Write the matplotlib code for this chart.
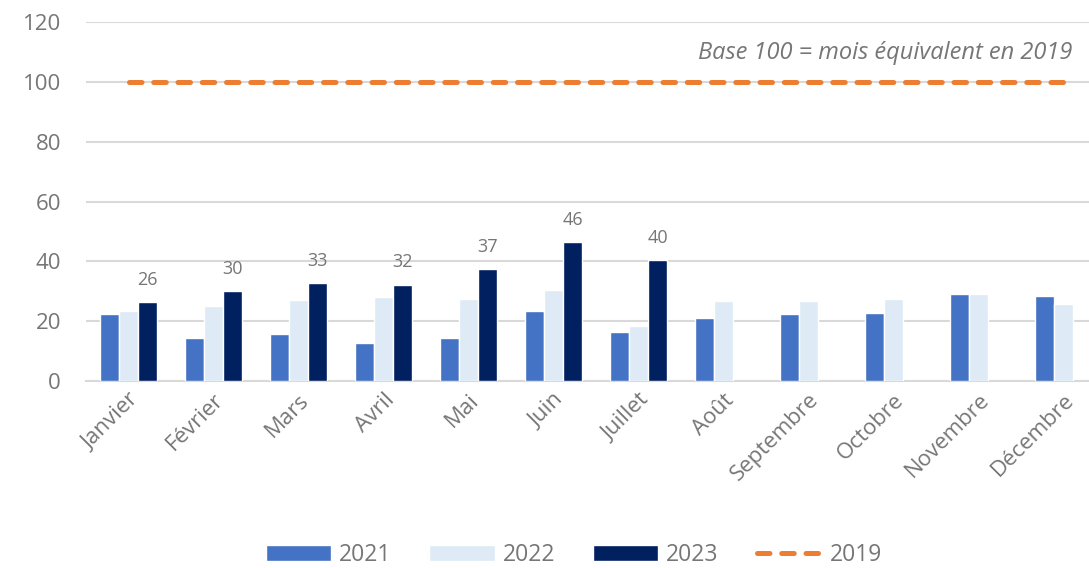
import numpy as np
import matplotlib.pyplot as plt

plt.rcParams['font.family'] = ['Open Sans', 'DejaVu Sans']

mois = ['Janvier', 'Février', 'Mars', 'Avril', 'Mai', 'Juin', 'Juillet',
        'Août', 'Septembre', 'Octobre', 'Novembre', 'Décembre']
v2021 = [22.3, 14.5, 15.8, 12.8, 14.5, 23.3, 16.5, 21.1, 22.5, 22.7, 29.0, 28.3]
v2022 = [23.4, 25.1, 27.1, 28.1, 27.6, 30.4, 18.5, 26.9, 26.9, 27.4, 29.0, 25.8]
v2023 = [26.3, 30.0, 32.8, 32.3, 37.4, 46.4, 40.4]
v2019 = [100] * 12

grey = '#767676'
fig = plt.figure(figsize=(10.89, 5.68), dpi=100)
# plot area runs a bit past the right edge, as in the source
ax = fig.add_axes([0.079, 0.329, 0.9366, 0.632])

x = np.arange(len(mois))
w = 0.224
h21 = ax.bar(x - w, v2021, w, color='#4472C4', edgecolor='white', linewidth=1, label='2021', zorder=3)
h22 = ax.bar(x, v2022, w, color='#DEEAF6', edgecolor='white', linewidth=1, label='2022', zorder=3)
h23 = ax.bar(x[:len(v2023)] + w, v2023, w, color='#002060', edgecolor='white', linewidth=1,
             label='2023', zorder=3)
h19, = ax.plot(x, v2019, color='#ED7D31', lw=3.6, ls=(0, (2.5, 2.35)), dash_capstyle='round',
               label='2019', zorder=4)

for xi, v in zip(x[:len(v2023)] + w, v2023):
    ax.text(xi, v + 4.5, f'{v:.0f}', ha='center', va='bottom', fontsize=13, color=grey)

ax.text(11.11, 109.7, 'Base 100 = mois équivalent en 2019', ha='right', va='center',
        fontsize=17, style='italic', color=grey)

ax.set_xlim(-0.5, 11.5)
ax.set_ylim(0, 120)
ax.set_yticks(range(0, 121, 20))
ax.yaxis.grid(True, color='#d9d9d9', lw=1.5, zorder=0)
ax.set_axisbelow(True)
for s in ['top', 'right', 'left']:
    ax.spines[s].set_visible(False)
ax.spines['bottom'].set_color('#d9d9d9')
ax.spines['bottom'].set_linewidth(1.5)
ax.tick_params(axis='both', length=0, labelsize=16, labelcolor=grey)
ax.tick_params(axis='y', pad=18)
ax.tick_params(axis='x', pad=6)
ax.set_xticks(x)
ax.set_xticklabels(mois, rotation=45, ha='right', rotation_mode='anchor')

leg = fig.legend([h21, h22, h23, h19], ['2021', '2022', '2023', '2019'],
                 loc='center', bbox_to_anchor=(0.527, 0.023), ncol=4, frameon=False,
                 fontsize=16.5, handlelength=2.85, handleheight=0.75, columnspacing=1.65,
                 handletextpad=0.35)
for t in leg.get_texts():
    t.set_color(grey)

fig.savefig('out.png', dpi=100)
